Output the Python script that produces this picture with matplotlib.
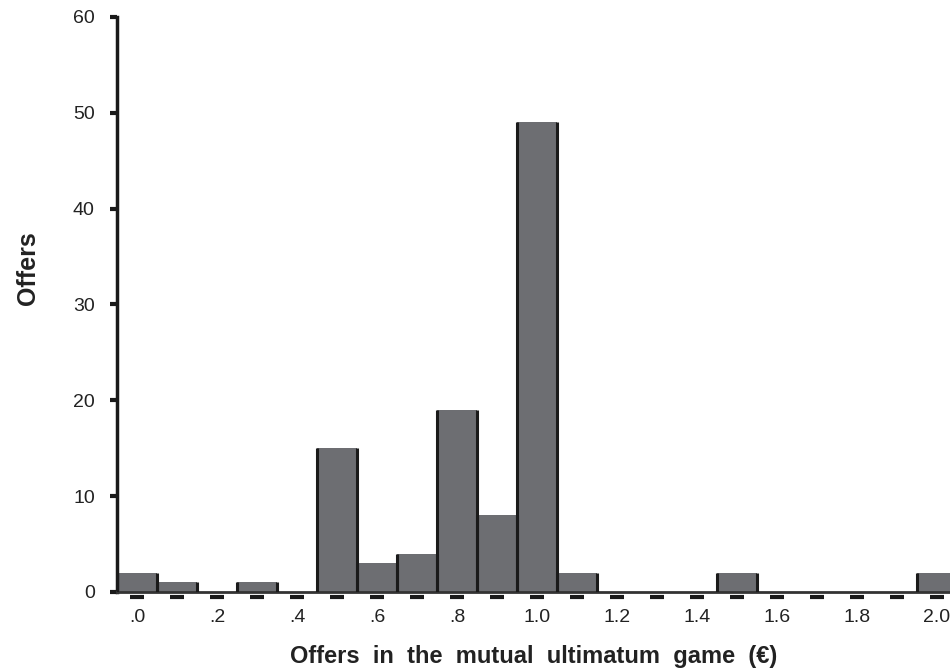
import numpy as np
import matplotlib.pyplot as plt

plt.rcParams['font.family'] = ['Liberation Sans', 'DejaVu Sans']

offers = np.round(np.arange(0, 2.01, 0.1), 1)
counts = [2, 1, 0, 1, 0, 15, 3, 4, 19, 8, 49, 2, 0, 0, 0, 2, 0, 0, 0, 0, 2]
tick_vals = np.round(np.arange(0, 2.01, 0.2), 1)
tick_labels = ['.0', '.2', '.4', '.6', '.8', '1.0', '1.2', '1.4', '1.6', '1.8', '2.0']

fig = plt.figure(figsize=(9.5, 6.68), dpi=100)
ax = fig.add_axes([0.1232, 0.1138, 0.8768, 0.8608])

w = 0.1
ax.bar(offers, counts, width=w, color='#6d6e72', edgecolor='none', zorder=2)

# dark side edges of the bars
for x, c in zip(offers, counts):
    if c > 0:
        ax.vlines([x - w / 2, x + w / 2], 0, c, color='#1a1a1a', lw=2.2, zorder=3)

# small dashes under the axis at every 0.1
ax.plot(offers, [-0.55] * len(offers), ls='none', marker='_', ms=10, mew=3,
        color='#1a1a1a', clip_on=False)

ax.set_xlim(-0.05, 2.0325)
ax.set_ylim(0, 60)
ax.set_yticks(range(0, 61, 10))
ax.set_xticks(tick_vals)
ax.set_xticklabels(tick_labels)

ax.spines['top'].set_visible(False)
ax.spines['right'].set_visible(False)
ax.spines['left'].set_linewidth(2.5)
ax.spines['left'].set_color('#1a1a1a')
ax.spines['bottom'].set_linewidth(2)
ax.spines['bottom'].set_color('#333333')

ax.tick_params(axis='y', length=5, width=3, color='#1a1a1a', labelsize=14,
               pad=11, labelcolor='#222222')
ax.tick_params(axis='x', length=0, labelsize=14, pad=12, labelcolor='#222222')

ax.set_ylabel('Offers', fontsize=18, fontweight='bold', color='#222222')
ax.yaxis.set_label_coords(-0.093, 0.563)
ax.set_xlabel('Offers  in  the  mutual  ultimatum  game  (€)', fontsize=17,
              fontweight='bold', labelpad=14, color='#222222')

fig.savefig('out.png', dpi=100)
